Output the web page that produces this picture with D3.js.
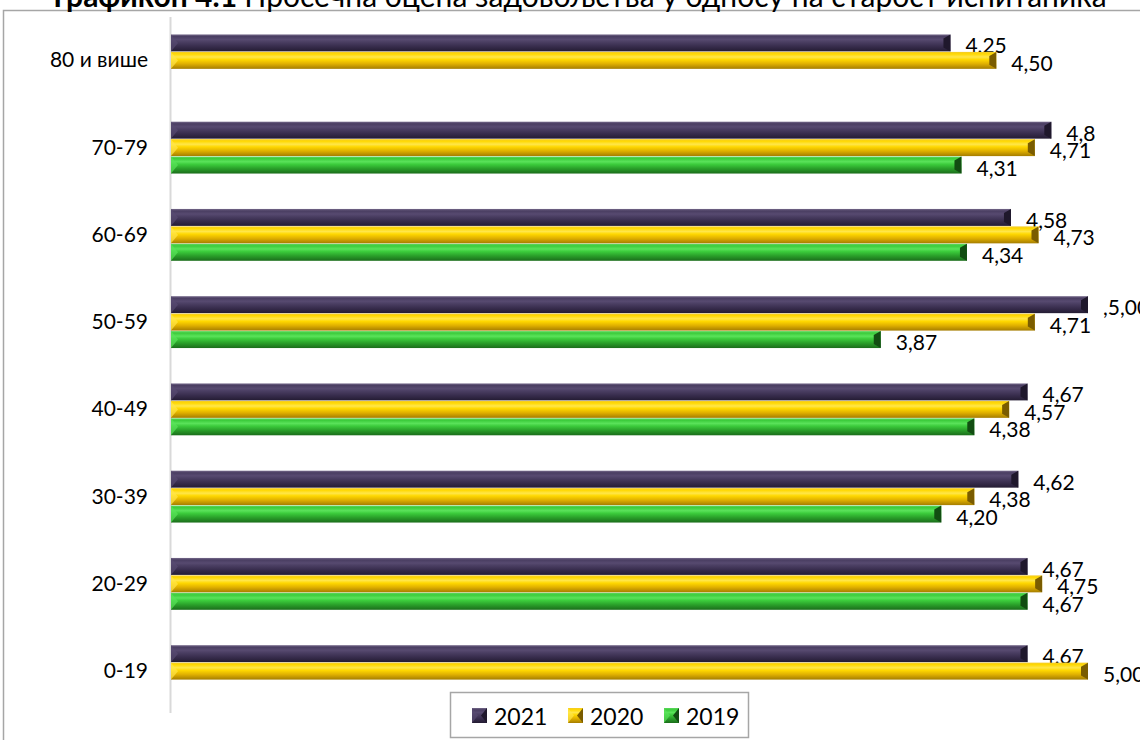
<!DOCTYPE html>
<html>
<head>
<meta charset="utf-8">
<script src="https://cdn.jsdelivr.net/npm/d3@7"></script>
<style>
  body { margin: 0; background: #fff; }
  svg { display: block; font-family: Lato, "Open Sans", sans-serif; }
</style>
</head>
<body>
<svg id="chart" width="1140" height="740"></svg>
<script>
// data (top to bottom)
const categories = ["80 и више", "70-79", "60-69", "50-59", "40-49", "30-39", "20-29", "0-19"];
const seriesNames = ["2021", "2020", "2019"];
const values2021 = [4.25, 4.8, 4.58, 5.00, 4.67, 4.62, 4.67, 4.67];
const values2020 = [4.50, 4.71, 4.73, 4.71, 4.57, 4.38, 4.75, 5.00];
const values2019 = [null, 4.31, 4.34, 3.87, 4.38, 4.20, 4.67, null];
const labels2021 = ["4,25", "4,8", "4,58", ",5,00", "4,67", "4,62", "4,67", "4,67"];
const labels2020 = ["4,50", "4,71", "4,73", "4,71", "4,57", "4,38", "4,75", "5,00"];
const labels2019 = [null, "4,31", "4,34", "3,87", "4,38", "4,20", "4,67", null];

const svg = d3.select("#chart");
const width = 1140, height = 740;

// bevel colours per series: [top light, mid, stripe, low, bottom dark, end cap]
const palette = {
    "2021": ["#75698a", "#4a3e62", "#574a70", "#382d4d", "#241c33", "#1f182c"],
    "2020": ["#f3cb2a", "#ffd800", "#ffe64a", "#e0b000", "#a57d00", "#7a5c00"],
    "2019": ["#5fd85f", "#3ccc3c", "#5ae25a", "#2aa02a", "#1b6d1b", "#124d12"]
};

const series = seriesNames.map(function(name, i) {
    const vals = [values2021, values2020, values2019][i];
    const labs = [labels2021, labels2020, labels2019][i];
    return {
        name: name,
        items: categories.map(function(c, j) { return { cat: c, value: vals[j], label: labs[j] }; })
            .filter(function(d) { return d.value !== null; })
    };
});

// gradients
const defs = svg.append("defs");
seriesNames.forEach(function(name) {
    const p = palette[name];
    const g = defs.append("linearGradient")
        .attr("id", "grad-" + name)
        .attr("x1", 0).attr("y1", 0).attr("x2", 0).attr("y2", 1);
    [[0, p[0]], [0.12, p[1]], [0.3, p[2]], [0.45, p[1]], [0.7, p[3]], [1, p[4]]].forEach(function(s) {
        g.append("stop").attr("offset", s[0]).attr("stop-color", s[1]);
    });
});

// outer frame (right and bottom edges run off the picture)
svg.append("rect")
    .attr("x", 3.5).attr("y", 10.5)
    .attr("width", 1200).attr("height", 800)
    .attr("fill", "none")
    .attr("stroke", "#a6a6a6")
    .attr("stroke-width", 1.5);

// title, cut off at the top
svg.append("text")
    .attr("x", 580).attr("y", 7)
    .attr("text-anchor", "middle")
    .style("font-size", "30px")
    .call(function(t) {
        t.append("tspan").style("font-weight", "bold").text("Графикон 4.1 ");
        t.append("tspan").text("Просечна оцена задовољства у односу на старост испитаника");
    });

const x = d3.scaleLinear().domain([0, 5]).range([171, 1088]);

const y = d3.scaleBand()
    .domain(categories)
    .range([17, 715])
    .paddingInner(0.4)
    .paddingOuter(0.2);

const ySub = d3.scaleBand()
    .domain(seriesNames)
    .range([0, y.bandwidth()]);

// category axis
const yAxis = svg.append("g")
    .attr("transform", "translate(170,0)")
    .call(d3.axisLeft(y).tickSize(0).tickPadding(22));
yAxis.select(".domain").remove();
yAxis.selectAll("text")
    .style("font-family", "Lato, sans-serif")
    .style("font-size", "21px")
    .attr("fill", "#000");

svg.append("line")
    .attr("x1", 170.5).attr("x2", 170.5)
    .attr("y1", 17).attr("y2", 713)
    .attr("stroke", "#d9d9d9")
    .attr("stroke-width", 2);

// bars
const groups = svg.selectAll(".series")
    .data(series)
    .enter().append("g")
    .attr("class", "series");

const bar = groups.selectAll(".bar")
    .data(function(s) { return s.items.map(function(d) { return Object.assign({ name: s.name }, d); }); })
    .enter().append("g")
    .attr("class", "bar")
    .attr("transform", function(d) { return "translate(0," + (y(d.cat) + ySub(d.name)) + ")"; });

const bh = ySub.bandwidth() - 0.5;

bar.append("rect")
    .attr("x", x(0))
    .attr("y", 0)
    .attr("width", function(d) { return x(d.value) - x(0); })
    .attr("height", bh)
    .attr("fill", function(d) { return "url(#grad-" + d.name + ")"; });

// left bevel
bar.append("path")
    .attr("d", function(d) {
        const x0 = x(0);
        return "M" + x0 + ",0L" + (x0 + 7) + "," + (bh / 2) + "L" + x0 + "," + bh + "Z";
    })
    .attr("fill", function(d) { return palette[d.name][2]; })
    .attr("opacity", 0.7);

// right bevel
bar.append("path")
    .attr("d", function(d) {
        const x1 = x(d.value);
        return "M" + x1 + ",0L" + (x1 - 7) + "," + 4 + "L" + (x1 - 7) + "," + (bh - 4) + "L" + x1 + "," + bh + "Z";
    })
    .attr("fill", function(d) { return palette[d.name][5]; });

// value labels
bar.append("text")
    .attr("x", function(d) { return x(d.value) + 15; })
    .attr("y", bh / 2 + 2)
    .attr("dominant-baseline", "central")
    .style("font-size", "21px")
    .attr("fill", "#000")
    .text(function(d) { return d.label; });

// legend
const legend = svg.append("g");
legend.append("rect")
    .attr("x", 450.5).attr("y", 692.5)
    .attr("width", 298).attr("height", 45)
    .attr("fill", "#fff")
    .attr("stroke", "#a6a6a6")
    .attr("stroke-width", 1.5);

const legendX = d3.scalePoint().domain(seriesNames).range([472, 664]);

const item = legend.selectAll(".item")
    .data(seriesNames)
    .enter().append("g")
    .attr("class", "item")
    .attr("transform", function(d) { return "translate(" + legendX(d) + ",708)"; });

item.append("rect")
    .attr("width", 15).attr("height", 15)
    .attr("fill", function(d) { return "url(#grad-" + d + ")"; });
item.append("path")
    .attr("d", "M15,0L9,7.5L15,15Z")
    .attr("fill", function(d) { return palette[d][5]; });
item.append("path")
    .attr("d", "M0,0L6,7.5L0,15Z")
    .attr("fill", function(d) { return palette[d][2]; })
    .attr("opacity", 0.7);

item.append("text")
    .attr("x", 22)
    .attr("y", 8)
    .attr("dominant-baseline", "central")
    .style("font-size", "23px")
    .text(function(d) { return d; });
</script>
</body>
</html>
